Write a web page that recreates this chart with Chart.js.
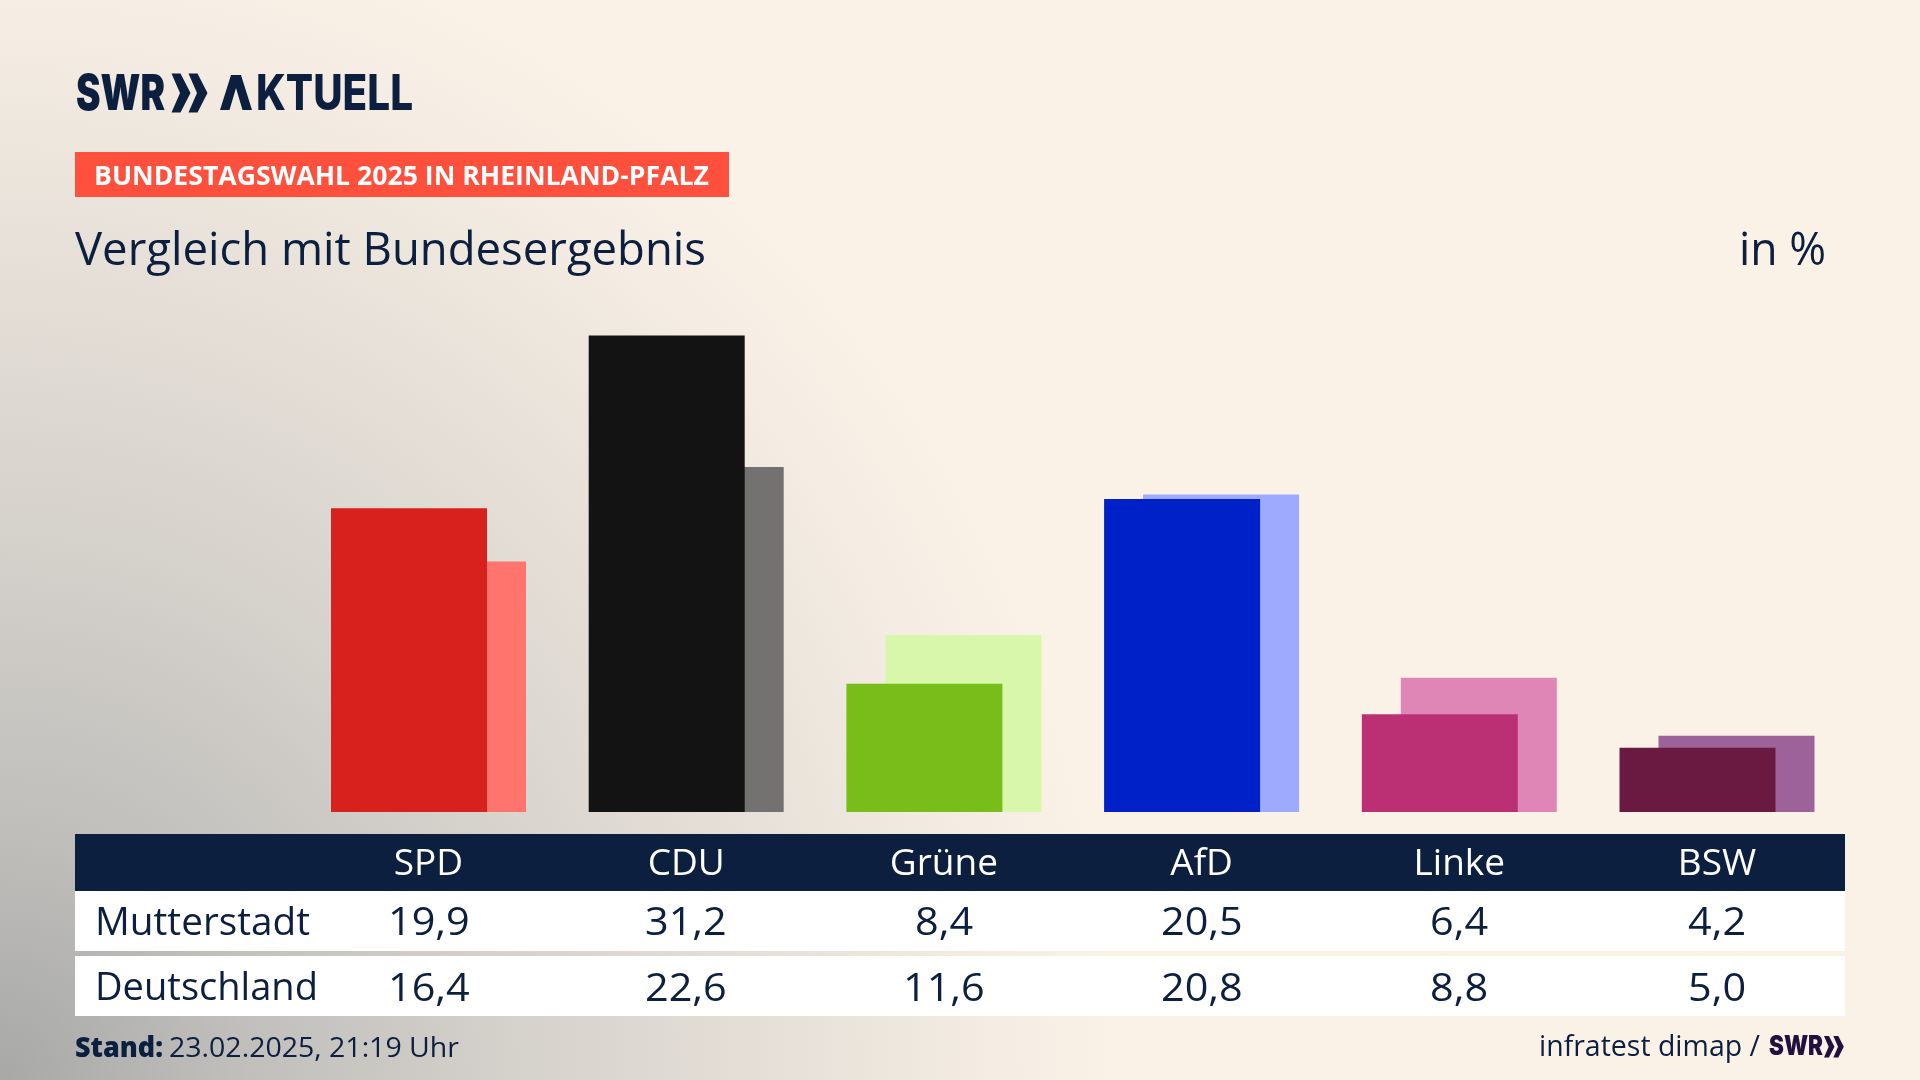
<!DOCTYPE html>
<html lang="de"><head><meta charset="utf-8">
<script src="https://cdn.jsdelivr.net/npm/chart.js@4"></script>
<style>
html,body{margin:0;padding:0;width:1920px;height:1080px;overflow:hidden}
body{position:relative;font-family:"Open Sans","Noto Sans",sans-serif;color:#0c1f3f;
background:
 radial-gradient(ellipse 1120px 1180px at 0px 1080px,#a8a8a7 0%,#c0bfbc 22%,#d5d1cb 46%,#e6e0d8 70%,#f4ece2 88%,#faf2e7 100%),#faf2e7}
.t{position:absolute;white-space:nowrap;line-height:1;transform-origin:0 50%}
.b{position:absolute}
canvas{position:absolute;left:0;top:0;z-index:2}
.v{z-index:3}
</style></head><body>
<div class="b" style="left:75px;top:152px;width:654px;height:45px;background:#ff4f3d"></div>
<div class="b" style="left:75px;top:834px;width:1770px;height:57px;background:#0c1f3f"></div>
<div class="b" style="left:75px;top:891px;width:1770px;height:60px;background:#fff"></div>
<div class="b" style="left:75px;top:956px;width:1770px;height:60px;background:#fff"></div>

<svg class="b" style="left:0;top:0;z-index:1" width="1920" height="1080" viewBox="0 0 1920 1080">
 <defs><path id="chev" d="M0 0H9L19 19.500L9 39H0L8.500 19.500Z M17 0H26L36 19.500L26 39H17L25.500 19.500Z"/></defs>
 <use href="#chev" x="171.500" y="73.500" fill="#0c1f3f"/>
 <path d="M220 110L231 75H241L252 110H242.500L236 88L229.500 110Z" fill="#0c1f3f"/>
 <use href="#chev" transform="translate(1824 1036) scale(.55)" fill="#22103f"/>
</svg>

<canvas id="c" width="1920" height="1080"></canvas>
<script>
const categories=["SPD","CDU","Grüne","AfD","Linke","BSW"];
const mutterstadt=[19.9,31.2,8.4,20.5,6.4,4.2];
const deutschland=[16.4,22.6,11.6,20.8,8.8,5.0];
const frontColors=["#d8211d","#131313","#79bd1b","#0020c8","#bb3074","#6a1a40"];
const backColors=["#ff756d","#737270","#d8f7ab","#9daafd","#df86b6","#9c6299"];
const rowNames=["Mutterstadt","Deutschland"];
const FONT='"Open Sans"';
const chart=new Chart(document.getElementById('c'),{
 type:'bar',
 data:{labels:categories,datasets:[
  {label:rowNames[0],data:mutterstadt,backgroundColor:frontColors,borderWidth:0,categoryPercentage:78/257.7,barPercentage:4},
  {label:rowNames[1],data:deutschland,backgroundColor:backColors,borderWidth:0,categoryPercentage:78/257.7,barPercentage:4}
 ]},
 options:{responsive:false,animation:false,devicePixelRatio:1,
  layout:{autoPadding:false,padding:{left:299.65,right:74.15,top:323.4,bottom:178}},
  plugins:{legend:{display:false},tooltip:{enabled:false},title:{display:false}},
  scales:{
   x:{grid:{display:false},border:{display:false},
      afterFit:s=>{s.height=90},
      ticks:{color:'#ffffff',font:{family:FONT,size:37},padding:22,maxRotation:0,autoSkip:false}},
   y:{display:false,min:0,max:32}
  }}
});
function text(s,x,y,size,opts={}){
 const e=document.createElement('div');e.className='t v';e.textContent=s;
 e.style.fontSize=size+'px';e.style.fontWeight=opts.weight||400;e.style.color=opts.color||'#0c1f3f';
 if(opts.family)e.style.fontFamily=opts.family;
 e.style.left=x+'px';e.style.top=(y-size/2)+'px';
 document.body.appendChild(e);
 const nat=e.getBoundingClientRect().width;
 const sx=opts.sx||(opts.w?opts.w/nat:1);
 if(opts.center)e.style.left=(x-nat*sx/2)+'px';
 e.style.transform='scaleX('+sx+')';
 return e;
}
const fmt=v=>v.toFixed(1).replace('.',',');
const sx=chart.scales.x;
categories.forEach((c,i)=>{
 const px=sx.getPixelForTick(i);
 text(fmt(mutterstadt[i]),px,920,38,{center:true,sx:1.09});
 text(fmt(deutschland[i]),px,986,38,{center:true,sx:1.09});
});
text(rowNames[0],95,920,38,{w:215});
text(rowNames[1],95,985,38,{w:223});
const LOGO='Inter,"Open Sans",sans-serif';
text('SWR',76,92,49,{weight:900,family:LOGO,w:89});
text('A',219,92,48,{weight:900,family:LOGO,color:'transparent',w:33});
text('KTUELL',256,92,49,{weight:800,family:LOGO,w:157});
text('BUNDESTAGSWAHL 2025 IN RHEINLAND-PFALZ',94,174.500,26,{weight:700,color:'#fff',w:615});
text('Vergleich mit Bundesergebnis',75,247.500,45,{w:631});
text('in %',1739,247.500,45,{w:87});
text('Stand:',75,1046,28,{weight:800,w:88});
text('23.02.2025, 21:19 Uhr',169,1046,28,{w:290});
text('infratest dimap /',1539,1044,29,{w:221});
text('SWR',1769,1045,27,{weight:900,family:LOGO,color:'#22103f',w:54});
</script>
</body></html>
